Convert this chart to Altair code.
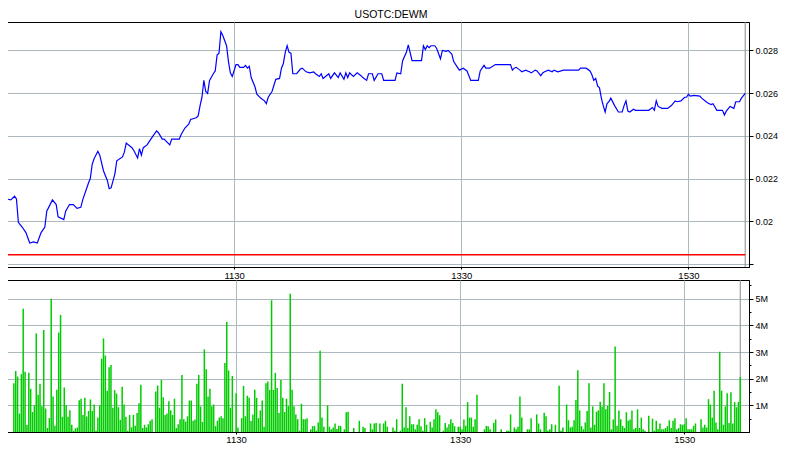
import altair as alt
import pandas as pd

TITLE = "USOTC:DEWM"

# ---- price (time HH:MM, price) ----
price_time = [
    "09:30", "09:32", "09:34", "09:35", "09:36", "09:38", "09:40", "09:42", "09:44", "09:46",
    "09:48", "09:50", "09:51", "09:54", "09:56", "09:57", "10:00", "10:01", "10:03", "10:05",
    "10:07", "10:09", "10:10", "10:13", "10:14", "10:15", "10:16", "10:18", "10:19", "10:21",
    "10:23", "10:24", "10:25", "10:27", "10:28", "10:31", "10:32", "10:33", "10:36", "10:37",
    "10:39", "10:40", "10:41", "10:42", "10:44", "10:46", "10:49", "10:50", "10:52", "10:53",
    "10:56", "10:57", "11:01", "11:02", "11:04", "11:06", "11:07", "11:10", "11:11", "11:12",
    "11:13", "11:14", "11:15", "11:16", "11:17", "11:19", "11:20", "11:21", "11:22", "11:23",
    "11:24", "11:26", "11:27", "11:28", "11:29", "11:31", "11:32", "11:33", "11:35", "11:36",
    "11:37", "11:38", "11:39", "11:41", "11:42", "11:44", "11:46", "11:47", "11:48", "11:50",
    "11:52", "11:54", "11:55", "11:56", "11:57", "11:58", "11:59", "12:00", "12:01", "12:03",
    "12:05", "12:06", "12:08", "12:10", "12:12", "12:13", "12:15", "12:16", "12:17", "12:20",
    "12:21", "12:23", "12:25", "12:26", "12:28", "12:29", "12:30", "12:31", "12:33", "12:35",
    "12:37", "12:38", "12:40", "12:41", "12:43", "12:44", "12:46", "12:48", "12:49", "12:55",
    "12:56", "12:58", "12:59", "13:01", "13:02", "13:04", "13:09", "13:10", "13:11", "13:12",
    "13:13", "13:14", "13:16", "13:17", "13:19", "13:20", "13:22", "13:23", "13:25", "13:26",
    "13:28", "13:29", "13:31", "13:33", "13:35", "13:39", "13:40", "13:42", "13:43", "13:45",
    "13:48", "13:56", "13:57", "13:58", "13:59", "14:01", "14:02", "14:04", "14:06", "14:07",
    "14:09", "14:10", "14:12", "14:13", "14:14", "14:16", "14:18", "14:19", "14:21", "14:24",
    "14:32", "14:33", "14:36", "14:38", "14:39", "14:40", "14:41", "14:42", "14:43", "14:44",
    "14:45", "14:46", "14:47", "14:48", "14:49", "14:51", "14:53", "14:55", "14:56", "14:57",
    "14:58", "14:59", "15:01", "15:02", "15:09", "15:11", "15:12", "15:13", "15:14", "15:16",
    "15:19", "15:21", "15:23", "15:24", "15:26", "15:28", "15:29", "15:30", "15:31", "15:33",
    "15:36", "15:37", "15:40", "15:42", "15:43", "15:45", "15:48", "15:49", "15:50", "15:52",
    "15:54", "15:55", "15:57", "15:58", "16:00",
]
price = [
    0.02105, 0.02101, 0.02118, 0.02105, 0.01996, 0.01974, 0.01948, 0.01899, 0.01904, 0.01899,
    0.01948, 0.01974, 0.02048, 0.02101, 0.02079, 0.02022, 0.02009, 0.02048, 0.02079, 0.02079,
    0.02061, 0.02066, 0.02101, 0.02179, 0.02201, 0.02267, 0.02293, 0.02328, 0.02310, 0.02236,
    0.02192, 0.02153, 0.02157, 0.02223, 0.02284, 0.02302, 0.02324, 0.02367, 0.02345, 0.02332,
    0.02297, 0.02341, 0.02310, 0.02345, 0.02358, 0.02385, 0.02424, 0.02415, 0.02385, 0.02385,
    0.02358, 0.02385, 0.02385, 0.02407, 0.02437, 0.02455, 0.02477, 0.02485, 0.02494, 0.02542,
    0.02581, 0.02660, 0.02608, 0.02599, 0.02660, 0.02691, 0.02704, 0.02778, 0.02787, 0.02888,
    0.02870, 0.02822, 0.02748, 0.02695, 0.02678, 0.02734, 0.02734, 0.02721, 0.02721, 0.02730,
    0.02717, 0.02726, 0.02673, 0.02630, 0.02595, 0.02577, 0.02564, 0.02551, 0.02581, 0.02608,
    0.02665, 0.02669, 0.02717, 0.02739, 0.02791, 0.02822, 0.02791, 0.02787, 0.02691, 0.02691,
    0.02713, 0.02717, 0.02700, 0.02695, 0.02700, 0.02691, 0.02678, 0.02691, 0.02669, 0.02691,
    0.02669, 0.02695, 0.02673, 0.02695, 0.02665, 0.02695, 0.02673, 0.02695, 0.02678, 0.02695,
    0.02682, 0.02673, 0.02660, 0.02691, 0.02691, 0.02660, 0.02691, 0.02691, 0.02660, 0.02660,
    0.02695, 0.02691, 0.02752, 0.02791, 0.02826, 0.02752, 0.02752, 0.02822, 0.02804, 0.02822,
    0.02813, 0.02822, 0.02822, 0.02809, 0.02761, 0.02800, 0.02796, 0.02800, 0.02783, 0.02748,
    0.02721, 0.02708, 0.02717, 0.02704, 0.02660, 0.02660, 0.02704, 0.02730, 0.02717, 0.02717,
    0.02734, 0.02734, 0.02708, 0.02717, 0.02721, 0.02708, 0.02700, 0.02708, 0.02700, 0.02695,
    0.02708, 0.02704, 0.02682, 0.02695, 0.02700, 0.02708, 0.02700, 0.02708, 0.02700, 0.02708,
    0.02708, 0.02717, 0.02717, 0.02704, 0.02686, 0.02660, 0.02669, 0.02634, 0.02625, 0.02577,
    0.02542, 0.02512, 0.02551, 0.02560, 0.02577, 0.02542, 0.02512, 0.02512, 0.02542, 0.02564,
    0.02516, 0.02512, 0.02525, 0.02520, 0.02520, 0.02533, 0.02520, 0.02564, 0.02538, 0.02529,
    0.02529, 0.02542, 0.02564, 0.02560, 0.02564, 0.02581, 0.02581, 0.02595, 0.02586, 0.02590,
    0.02586, 0.02577, 0.02555, 0.02547, 0.02551, 0.02520, 0.02520, 0.02498, 0.02516, 0.02538,
    0.02529, 0.02560, 0.02560, 0.02577, 0.02599,
]

# ---- volume (minutes after 09:30, volume in millions) ----
vol_minute = [
    1, 2, 3, 4, 5, 6, 7, 8, 9, 10,
    11, 12, 13, 14, 15, 16, 17, 18, 19, 20,
    21, 22, 23, 24, 25, 26, 27, 28, 29, 30,
    31, 32, 33, 34, 35, 36, 37, 38, 39, 40,
    41, 42, 43, 44, 45, 46, 47, 48, 49, 50,
    51, 52, 53, 54, 55, 56, 57, 58, 59, 60,
    61, 62, 63, 64, 65, 66, 67, 68, 69, 70,
    71, 72, 73, 74, 75, 77, 78, 79, 80,
    81, 82, 83, 84, 85, 86, 87, 88, 89, 90,
    91, 92, 93, 94, 95, 96, 97, 98, 99, 100,
    101, 102, 103, 104, 105, 106, 107, 108, 109, 110,
    111, 112, 113, 114, 115, 116, 117, 118, 120,
    121, 123, 124, 125, 126, 127, 128, 129, 130,
    131, 132, 133, 134, 135, 136, 137, 138, 139, 140,
    141, 142, 143, 144, 145, 146, 147, 148, 149, 150,
    151, 152, 153, 154, 155, 156, 157, 158, 160,
    161, 162, 163, 164, 165, 166, 167, 169, 170,
    171, 172, 173, 174, 175, 176, 178, 179, 180,
    183, 186, 188, 189, 192, 193, 194, 195, 197,
    199, 200, 201, 204, 205, 206, 208, 209, 210, 211,
    212, 213, 214, 215, 216, 217, 218, 219, 220, 221,
    222, 224, 225, 226, 227, 228, 229, 231, 232, 233,
    234, 235, 236, 237, 239, 240, 241, 242, 243, 244,
    245, 246, 247, 248, 249, 253, 254, 255, 256, 258,
    259, 262, 265, 266, 267, 269, 270, 271, 272, 273,
    276, 277, 278, 281, 282, 283, 285, 286, 287, 288,
    289, 291, 293, 294, 295, 297, 298, 299, 300, 301,
    302, 303, 304, 305, 306, 307, 308, 309, 310, 311,
    312, 313, 314, 315, 316, 317, 318, 319, 320, 321,
    322, 323, 324, 325, 326, 327, 328, 329, 330, 331,
    332, 333, 334, 335, 336, 337, 338, 339, 341, 343,
    344, 345, 346, 347, 348, 349, 350, 351, 352, 353,
    354, 355, 356, 357, 358, 359, 360, 361, 362, 363,
    364, 365, 366, 369, 370, 371, 372, 373, 374, 375,
    376, 377, 378, 379, 380, 381, 382, 383, 384, 385,
    386, 387, 388, 389, 390,
]
vol_millions = [
    1.83, 2.29, 2.08, 0.69, 2.17, 4.62, 2.26, 0.26, 2.22, 1.62,
    0.75, 1.00, 3.70, 1.40, 1.81, 0.97, 3.83, 0.88, 0.15, 0.52,
    5.00, 1.33, 0.23, 1.58, 3.73, 4.39, 0.57, 1.67, 1.00, 0.57,
    0.82, 0.27, 0.05, 0.14, 0.17, 1.19, 1.25, 0.64, 1.28, 0.58,
    0.79, 1.22, 0.79, 1.03, 0.05, 0.54, 1.00, 2.75, 3.51, 2.87,
    1.55, 2.43, 2.51, 0.91, 1.57, 1.44, 0.93, 0.45, 1.70, 1.03,
    0.57, 0.05, 0.64, 0.17, 0.64, 0.23, 0.71, 1.08, 1.77, 0.15,
    0.27, 0.17, 0.29, 0.42, 0.48, 1.52, 1.74, 0.91, 1.95,
    1.30, 0.64, 0.69, 1.15, 0.81, 0.64, 1.25, 0.15, 0.29, 0.48,
    2.14, 0.48, 0.39, 0.59, 1.18, 1.18, 0.42, 0.47, 1.81, 2.14,
    0.96, 0.38, 3.10, 2.35, 1.33, 1.62, 0.97, 1.03, 0.22, 0.42,
    0.54, 0.59, 0.52, 2.59, 4.13, 2.31, 0.91, 2.10, 1.45,
    0.17, 0.52, 1.73, 0.59, 1.36, 1.28, 0.41, 0.66, 1.58,
    1.28, 0.52, 0.81, 1.18, 0.20, 1.83, 1.89, 1.58, 4.94, 1.58,
    2.22, 1.65, 0.71, 1.95, 1.28, 0.75, 1.25, 0.97, 5.18, 1.58,
    0.97, 0.66, 0.48, 0.05, 1.06, 0.48, 0.48, 0.52, 0.10,
    0.22, 0.23, 0.05, 0.36, 3.05, 0.54, 0.20, 1.00, 0.20,
    0.10, 0.17, 0.32, 0.11, 0.23, 0.23, 0.10, 0.74, 0.76,
    0.15, 0.42, 0.20, 0.15, 0.32, 0.10, 0.32, 0.34, 0.32,
    0.32, 0.42, 0.20, 0.17, 0.05, 0.48, 0.05, 1.81, 0.17, 0.93,
    0.15, 0.59, 0.29, 0.29, 0.10, 0.27, 0.48, 0.22, 0.05, 0.52,
    0.27, 0.38, 0.17, 0.48, 0.85, 0.74, 0.63, 0.05, 0.34, 0.17,
    0.29, 0.48, 0.34, 0.22, 0.20, 0.20, 0.10, 0.47, 0.23, 1.12,
    0.54, 0.54, 0.20, 0.48, 1.40, 0.10, 0.23, 0.22, 0.10, 0.34,
    0.47, 0.10, 0.05, 0.05, 0.66, 0.17, 0.10, 0.20, 1.33, 0.54,
    0.10, 0.10, 0.52, 0.66, 0.32, 0.10, 0.72, 0.59, 0.05, 0.10,
    0.29, 0.27, 1.73, 0.05, 0.17, 1.03, 0.44, 0.17, 0.20, 0.44,
    1.20, 2.32, 0.81, 0.22, 0.10, 0.36, 0.79, 1.83, 0.17, 0.96,
    0.27, 0.76, 0.81, 1.13, 0.96, 1.83, 0.85, 0.98, 1.50, 0.10,
    0.47, 3.21, 0.23, 0.81, 0.48, 0.23, 0.15, 0.74, 0.42, 0.47,
    0.81, 0.10, 0.15, 0.85, 0.15, 0.54, 0.10, 0.05, 0.61, 0.50,
    0.05, 0.42, 0.11, 0.32, 0.10, 0.10, 0.15, 0.22, 0.44, 0.15,
    0.42, 0.52, 0.10, 0.15, 0.29, 0.27, 0.29, 0.52, 0.10, 0.10,
    0.10, 0.23, 0.32, 0.48, 0.17, 0.27, 0.17, 1.23, 1.03, 0.54,
    1.55, 0.36, 0.10, 3.01, 1.55, 0.27, 0.96, 1.45, 0.34, 1.49,
    0.32, 1.12, 0.93, 1.13, 2.06,
]

support_level = 0.01844
close_minute = 390
x_tick_minutes = [120, 240, 360]
price_ticks = [0.018, 0.019, 0.020, 0.021, 0.022, 0.023, 0.024, 0.025, 0.026, 0.027, 0.028, 0.029]
vol_ticks = [0.5, 1, 1.5, 2, 2.5, 3, 3.5, 4, 4.5, 5, 5.5]


def minute_of_session(t):
    h, m = t.split(":")
    return int(h) * 60 + int(m) - (9 * 60 + 30)


price_df = pd.DataFrame({"minute": [minute_of_session(t) for t in price_time], "price": price})
vol_df = pd.DataFrame({"minute": vol_minute, "volume": vol_millions})
level_df = pd.DataFrame({"level": [support_level], "start": [0], "end": [close_minute]})
close_df = pd.DataFrame({"minute": [close_minute]})

FONT = "Liberation Sans"
GRID = "#a9b9bd"
W = 742
LABEL_SIZE = 9

x_scale = alt.Scale(domain=[0, 392], nice=False, zero=False)
x_label = "format(floor((570 + datum.value) / 60), 'd') + format((570 + datum.value) % 60, '02d')"


def x_axis(pad):
    return alt.Axis(values=x_tick_minutes, labelExpr=x_label, title=None, grid=True,
                    gridColor=GRID, tickSize=2, labelPadding=pad, labelFontSize=LABEL_SIZE + 0.5,
                    labelFont=FONT, labelColor="#000", tickColor="#000", domainColor="#000")


even_test = "round(datum.value * 1000) % 2 == 0"
price_axis = alt.Axis(
    orient="right", values=price_ticks, title=None,
    labelExpr="round(datum.value * 1000) % 2 == 0 && datum.value > 0.0185 ? format(datum.value, '~g') : ''",
    gridOpacity={"condition": {"test": even_test, "value": 1}, "value": 0},
    tickSize={"condition": {"test": even_test, "value": 4}, "value": 2},
    gridColor=GRID, labelPadding=2, labelFontSize=LABEL_SIZE, labelFont=FONT, labelColor="#000",
    tickColor="#000", domainColor="#000",
)

vol_test = "datum.value % 1 == 0"
vol_axis = alt.Axis(
    orient="right", values=vol_ticks, title=None,
    labelExpr="datum.value % 1 == 0 ? format(datum.value, 'd') + 'M' : ''",
    gridOpacity={"condition": {"test": vol_test, "value": 1}, "value": 0},
    tickSize={"condition": {"test": vol_test, "value": 4}, "value": 2},
    gridColor=GRID, labelPadding=2, labelFontSize=LABEL_SIZE, labelFont=FONT, labelColor="#000",
    tickColor="#000", domainColor="#000",
)

price_scale = alt.Scale(domain=[0.01787, 0.02933], nice=False, zero=False)
vol_scale = alt.Scale(domain=[0, 5.7], nice=False, zero=False)

line = alt.Chart(price_df).mark_line(color="#0000ff", strokeWidth=1.2).encode(
    x=alt.X("minute:Q", scale=x_scale, axis=x_axis(1)),
    y=alt.Y("price:Q", scale=price_scale, axis=price_axis),
)
level = alt.Chart(level_df).mark_rule(color="#ff0000", strokeWidth=1.4).encode(
    y=alt.Y("level:Q"), x=alt.X("start:Q"), x2="end:Q"
)
close_top = alt.Chart(close_df).mark_rule(color="#8a8a8a", strokeWidth=1).encode(x="minute:Q")

top = alt.layer(close_top, level, line).properties(width=W, height=245)

bars = alt.Chart(vol_df).mark_bar(color="#00cc00", width=1.5).encode(
    x=alt.X("minute:Q", scale=x_scale, axis=x_axis(0)),
    y=alt.Y("volume:Q", scale=vol_scale, axis=vol_axis),
)
close_bot = alt.Chart(close_df).mark_rule(color="#8a8a8a", strokeWidth=1).encode(x="minute:Q")
bottom = alt.layer(close_bot, bars).properties(width=W, height=152)

chart = alt.vconcat(top, bottom, spacing=-3).properties(
    title=alt.TitleParams(TITLE, fontSize=10.5, font=FONT, fontWeight="normal", color="#000",
                          anchor="middle", offset=1),
    padding={"left": -4, "top": 1, "right": 0, "bottom": 0},
).configure_view(stroke="#000", strokeWidth=1)

chart.save("out.html", embed_options={"renderer": "svg", "actions": False})
